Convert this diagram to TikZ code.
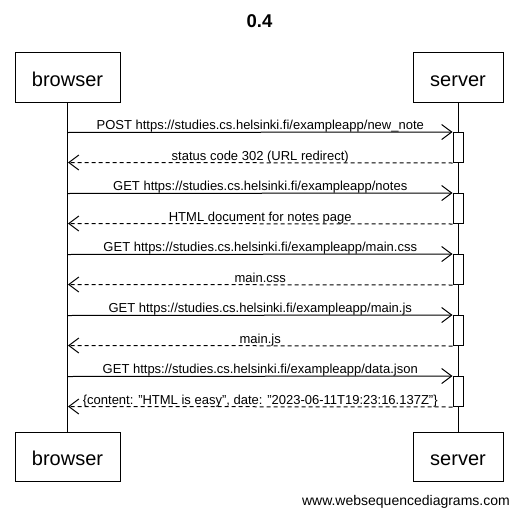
\documentclass[tikz,border=0pt]{standalone}
\usepackage{fontspec}
\setmainfont{Liberation Sans}
\usetikzlibrary{arrows.meta, positioning}

\begin{document}
\begin{tikzpicture}[
  x=1pt, y=-1pt,
  actor/.style={draw=black, fill=white, line width=1pt, inner sep=0pt,
                minimum width=105pt, minimum height=49pt,
                text height=17pt, text depth=0pt,
                font=\fontsize{20}{24}\selectfont},
  srvactor/.style={actor, minimum width=90pt},
  act/.style={draw=black, fill=white, line width=1pt, inner sep=0pt,
              minimum width=10pt, minimum height=30pt},
  life/.style={line width=1pt},
  req/.style={-{Straight Barb[length=10pt, width=15pt]}, line width=1pt},
  resp/.style={req, dash pattern=on 4pt off 3pt},
  msg/.style={font=\fontsize{13}{15}\selectfont, inner sep=0pt, anchor=base,
              midway, yshift=2.5pt}
]
  \useasboundingbox (0,0) rectangle (518,516);

  % title
  \node[font=\fontsize{18.5}{21}\selectfont\bfseries, inner sep=0pt, anchor=base]
    (title) at (259.5,27.7) {0.4};

  % participants
  \node[actor] (browsertop) at (67.5,77.5) {browser};
  \node[srvactor] (servertop) at (458,77.5) {server};
  \node[actor] (browserbot) at (67.5,456.5) {browser};
  \node[srvactor] (serverbot) at (458,456.5) {server};

  % lifelines
  \draw[life] (browsertop) -- (browserbot);
  \draw[life] (servertop) -- (serverbot);

  % activations
  \node[act] (act1) at (458,147.5) {};
  \node[act] (act2) at (458,208.5) {};
  \node[act] (act3) at (458,269.5) {};
  \node[act] (act4) at (458,330.5) {};
  \node[act] (act5) at (458,391.5) {};

  % browser side ends
  \coordinate (req1) at (68,132.5);  \coordinate (res1) at (68,162.5);
  \coordinate (req2) at (68,193.5);  \coordinate (res2) at (68,223.5);
  \coordinate (req3) at (68,254.5);  \coordinate (res3) at (68,284.5);
  \coordinate (req4) at (68,315.5);  \coordinate (res4) at (68,345.5);
  \coordinate (req5) at (68,376.5);  \coordinate (res5) at (68,406.5);

  % messages
  \draw[req] (req1) -- (act1.north west)
    node[msg] (m1) {POST https://studies.cs.helsinki.fi/exampleapp/new\_note};
  \draw[resp] (act1.south west) -- (res1)
    node[msg] (r1) {status code 302 (URL redirect)};

  \draw[req] (req2) -- (act2.north west)
    node[msg] (m2) {GET https://studies.cs.helsinki.fi/exampleapp/notes};
  \draw[resp] (act2.south west) -- (res2)
    node[msg] (r2) {HTML document for notes page};

  \draw[req] (req3) -- (act3.north west)
    node[msg] (m3) {GET https://studies.cs.helsinki.fi/exampleapp/main.css};
  \draw[resp] (act3.south west) -- (res3)
    node[msg] (r3) {main.css};

  \draw[req] (req4) -- (act4.north west)
    node[msg] (m4) {GET https://studies.cs.helsinki.fi/exampleapp/main.js};
  \draw[resp] (act4.south west) -- (res4)
    node[msg] (r4) {main.js};

  \draw[req] (req5) -- (act5.north west)
    node[msg] (m5) {GET https://studies.cs.helsinki.fi/exampleapp/data.json};
  \draw[resp] (act5.south west) -- (res5)
    node[msg] (r5) {\{content: "HTML is easy", date: "2023-06-11T19:23:16.137Z"\}};

  % footer
  \node[font=\fontsize{14}{16}\selectfont, inner sep=0pt, anchor=base east]
    (credit) at (510,505.5) {www.websequencediagrams.com};
\end{tikzpicture}
\end{document}
